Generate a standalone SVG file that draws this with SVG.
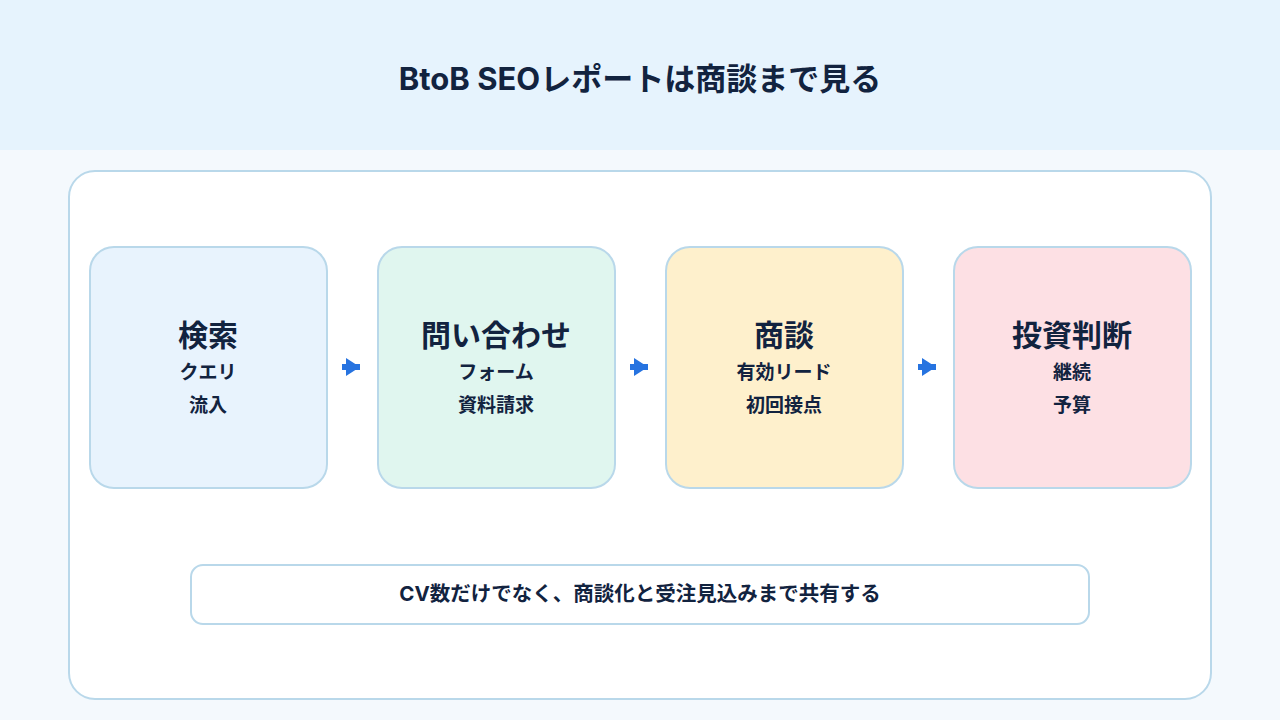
<svg xmlns="http://www.w3.org/2000/svg" width="1280" height="720" viewBox="0 0 1280 720">
<style>
.t{font-family:Inter,"Noto Sans CJK JP",sans-serif;font-weight:700;fill:#12233f;text-anchor:middle}
.box{stroke:#b9d8ea;stroke-width:2}
</style>
<defs><marker id="ah" markerWidth="14" markerHeight="18" refX="14" refY="9" orient="auto" markerUnits="userSpaceOnUse"><path d="M0,0 L14,9 L0,18 Z" fill="#2673e0"/></marker></defs>
<rect width="1280" height="720" fill="#f4f9fd"/>
<rect width="1280" height="150" fill="#e6f3fd"/>
<text class="t" x="640" y="90" font-size="31">BtoB SEOレポートは商談まで見る</text>
<rect x="69" y="171" width="1142" height="528" rx="26" fill="#fff" class="box"/>
<g id="n1"><rect x="90" y="247" width="237" height="241" rx="24" fill="#e8f3fd" class="box"/>
<text class="t" x="208" y="346" font-size="30">検索</text><text class="t" x="208" y="379" font-size="19">クエリ</text><text class="t" x="208" y="412" font-size="19">流入</text></g>
<g id="n2"><rect x="378" y="247" width="237" height="241" rx="24" fill="#e0f6ef" class="box"/>
<text class="t" x="496" y="346" font-size="30">問い合わせ</text><text class="t" x="496" y="379" font-size="19">フォーム</text><text class="t" x="496" y="412" font-size="19">資料請求</text></g>
<g id="n3"><rect x="666" y="247" width="237" height="241" rx="24" fill="#fef0cc" class="box"/>
<text class="t" x="784" y="346" font-size="30">商談</text><text class="t" x="784" y="379" font-size="19">有効リード</text><text class="t" x="784" y="412" font-size="19">初回接点</text></g>
<g id="n4"><rect x="954" y="247" width="237" height="241" rx="24" fill="#fde0e4" class="box"/>
<text class="t" x="1072" y="346" font-size="30">投資判断</text><text class="t" x="1072" y="379" font-size="19">継続</text><text class="t" x="1072" y="412" font-size="19">予算</text></g>
<g id="connectors" stroke="#2673e0" stroke-width="6">
<line x1="342" y1="367" x2="360" y2="367" marker-end="url(#ah)"/>
<line x1="630" y1="367" x2="648" y2="367" marker-end="url(#ah)"/>
<line x1="918" y1="367" x2="936" y2="367" marker-end="url(#ah)"/>
</g>
<g id="note"><rect x="191" y="565" width="898" height="59" rx="12" fill="#fff" class="box"/>
<text class="t" x="640" y="601" font-size="20.5">CV数だけでなく、商談化と受注見込みまで共有する</text></g>
</svg>
